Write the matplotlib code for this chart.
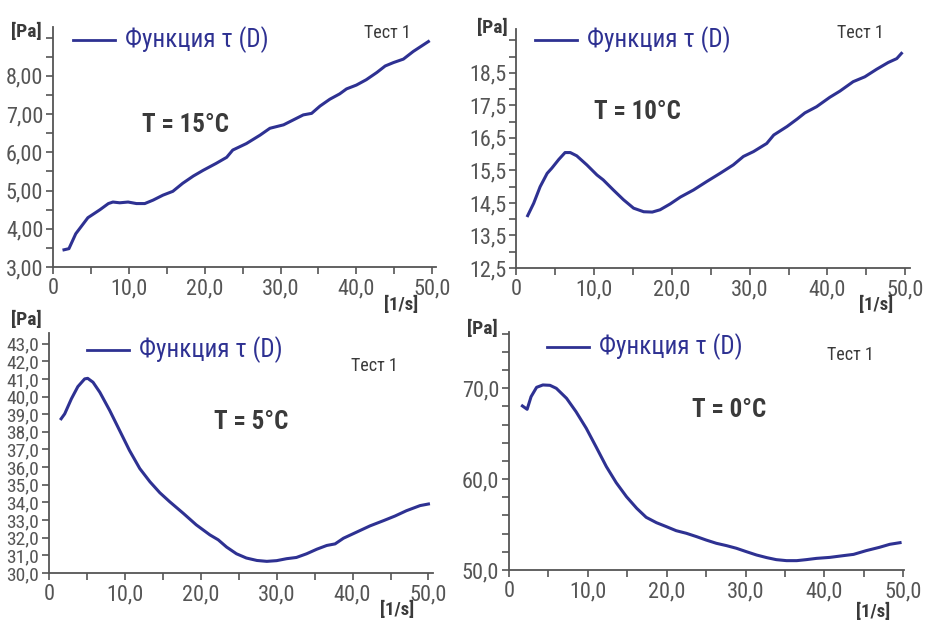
import matplotlib
matplotlib.use("Agg")
import matplotlib.pyplot as plt
from matplotlib import font_manager
from matplotlib.ticker import FixedLocator, FuncFormatter, MultipleLocator

avail = {f.name for f in font_manager.fontManager.ttflist}
base = None
for cand in ["Liberation Sans Narrow", "Roboto Condensed", "Open Sans Condensed", "Roboto", "Liberation Sans"]:
    if cand in avail:
        base = cand
        break
plt.rcParams['font.family'] = [base, 'DejaVu Sans']

# ---------------- data ----------------
x15 = [1.45, 2.1, 3.0, 4.6, 6.2, 7.3, 7.9, 8.8, 9.9, 11.0, 12.1, 13.2, 14.5, 15.8, 17.1, 18.5, 19.8,
       21.5, 22.9, 23.7, 25.5, 27.3, 28.6, 30.4, 31.7, 33.0, 34.1, 35.2, 36.5, 37.8, 38.7, 40.0, 41.3,
       42.7, 43.8, 44.9, 46.2, 47.5, 49.5]
y15 = [3.45, 3.48, 3.87, 4.29, 4.50, 4.66, 4.70, 4.68, 4.70, 4.66, 4.66, 4.75, 4.88, 4.98, 5.19, 5.38, 5.53,
       5.71, 5.87, 6.06, 6.23, 6.45, 6.63, 6.72, 6.85, 6.98, 7.02, 7.21, 7.39, 7.53, 7.66, 7.76, 7.90,
       8.09, 8.26, 8.35, 8.44, 8.64, 8.90]

x10 = [1.5, 2.27, 3.1, 4.0, 4.6, 5.5, 6.3, 6.97, 7.8, 9.1, 10.4, 11.2, 12.5, 13.8, 15.1, 16.4, 17.5, 18.5,
       19.8, 21.1, 22.8, 24.5, 26.2, 27.9, 29.2, 30.5, 32.2, 33.1, 34.8, 36.1, 37.1, 38.6, 40.3, 41.6,
       43.3, 44.8, 46.3, 47.8, 48.9, 49.5]
y10 = [14.11, 14.49, 15.0, 15.41, 15.57, 15.84, 16.05, 16.05, 15.95, 15.67, 15.36, 15.21, 14.90, 14.60,
       14.34, 14.23, 14.22, 14.29, 14.47, 14.68, 14.90, 15.16, 15.41, 15.67, 15.93, 16.08, 16.33, 16.59,
       16.85, 17.08, 17.27, 17.46, 17.75, 17.94, 18.23, 18.38, 18.61, 18.82, 18.94, 19.10]

x5 = [1.6, 2.07, 2.95, 3.8, 4.7, 5.1, 5.8, 6.7, 8.0, 9.3, 10.6, 11.96, 13.3, 14.6, 15.9, 17.7, 19.4, 21.2,
      22.3, 23.4, 24.7, 26.0, 27.4, 28.7, 30.0, 31.3, 32.6, 33.95, 35.3, 36.6, 37.7, 38.8, 40.5, 42.3,
      44.1, 45.6, 47.1, 48.9, 50.0]
y5 = [38.74, 39.02, 39.87, 40.56, 41.0, 41.03, 40.81, 40.24, 39.21, 38.08, 36.95, 35.92, 35.17, 34.55,
      34.04, 33.38, 32.73, 32.16, 31.88, 31.47, 31.09, 30.85, 30.71, 30.66, 30.70, 30.81, 30.88, 31.09,
      31.35, 31.56, 31.65, 31.97, 32.31, 32.67, 32.97, 33.23, 33.53, 33.82, 33.91]

x0 = [1.7, 2.3, 2.8, 3.5, 4.3, 5.2, 6.0, 7.3, 8.5, 9.8, 11.08, 12.35, 13.6, 14.9, 16.2, 17.4, 18.7, 19.97,
      21.2, 22.5, 23.8, 25.0, 26.3, 27.6, 28.85, 30.1, 31.4, 32.7, 33.9, 35.2, 36.5, 37.7, 39.0, 40.7,
      42.4, 43.7, 45.3, 47.0, 48.3, 49.6]
y0 = [68.06, 67.69, 69.08, 70.11, 70.37, 70.33, 70.0, 68.90, 67.43, 65.60, 63.50, 61.38, 59.61, 58.07,
      56.79, 55.80, 55.21, 54.77, 54.33, 54.04, 53.67, 53.30, 52.94, 52.68, 52.39, 52.02, 51.65, 51.36,
      51.14, 51.03, 51.03, 51.14, 51.28, 51.39, 51.58, 51.72, 52.13, 52.50, 52.83, 53.01]

x_ticks = [0, 10, 20, 30, 40, 50]
x_tick_labels = ["0", "10,0", "20,0", "30,0", "40,0", "50,0"]
temps = ["T = 15°C", "T = 10°C", "T = 5°C", "T = 0°C"]
legend_label = "Функция τ (D)"
test_label = "Тест 1"

W, H = 946, 628
fig = plt.figure(figsize=(W / 100, H / 100), dpi=100)

LINE = "#2e3192"
AX = "#555555"
TXT = "#3a3a3a"
TICKTXT = "#555555"


def fx(px):
    return px / W


def fy(py):
    return 1 - py / H


def make_axes(l, r, b, t, xmax, ylim, yticks, ydec, yminor, ytick_fs):
    ax = fig.add_axes([fx(l), fy(b), fx(r) - fx(l), fy(t) - fy(b)])
    ax.set_xlim(0, xmax)
    ax.set_ylim(*ylim)
    for s in ["top", "right"]:
        ax.spines[s].set_visible(False)
    for s in ["left", "bottom"]:
        ax.spines[s].set_color(AX)
        ax.spines[s].set_linewidth(1.3)
    ax.xaxis.set_major_locator(FixedLocator(x_ticks))
    ax.set_xticklabels(x_tick_labels)
    ax.xaxis.set_minor_locator(MultipleLocator(5))
    ax.yaxis.set_major_locator(FixedLocator(yticks))
    ax.yaxis.set_major_formatter(FuncFormatter(lambda v, p: f"{v:.{ydec}f}".replace(".", ",")))
    ax.yaxis.set_minor_locator(MultipleLocator(yminor))
    ax.tick_params(axis="both", which="both", direction="out", color=AX, width=1.2, length=5,
                   labelcolor=TICKTXT, pad=2)
    ax.tick_params(axis="x", labelsize=16, pad=3)
    ax.tick_params(axis="y", labelsize=ytick_fs)
    return ax


# Panel 1
a1 = make_axes(53, 436, 267, 27, 50.5, (3, 9.28), [3, 4, 5, 6, 7, 8], 2, 0.5, 16)
a1.plot(x15, y15, color=LINE, lw=2.2)
# Panel 2
a2 = make_axes(516, 910, 268, 29, 50.6, (12.5, 19.85), [12.5, 13.5, 14.5, 15.5, 16.5, 17.5, 18.5], 1, 0.5, 16)
a2.plot(x10, y10, color=LINE, lw=2.2)
# Panel 3
a3 = make_axes(49, 433, 573, 333, 50.6, (30, 43.6), list(range(30, 44)), 1, 1.0, 14)
a3.plot(x5, y5, color=LINE, lw=2.2)
# Panel 4
a4 = make_axes(509, 904, 570, 332, 50.1, (50, 76.2), [50, 60, 70], 1, 2.0, 16)
a4.plot(x0, y0, color=LINE, lw=2.2)

# annotations: (pa_x, pa_y, leg_x0, leg_x1, leg_y, test_x, test_y, temp_x, temp_y, unit_x, unit_y)
specs = [
    (26, 32, 73, 115, 40, 387, 33, 185, 125, 401, 305),
    (492, 28, 535, 577, 40, 860, 33, 637, 112, 876, 305),
    (26, 320, 87, 129, 350, 374, 366, 251, 422, 397, 610),
    (482, 329, 547, 589, 347, 850, 355, 729, 410, 873, 612),
]
for i, (pax, pay, l0, l1, ly, tx, ty, tpx, tpy, ux, uy) in enumerate(specs):
    fig.text(fx(pax), fy(pay), "[Pa]", ha="center", va="center", fontsize=14, fontweight="bold", color=TXT)
    fig.add_artist(plt.Line2D([fx(l0), fx(l1)], [fy(ly), fy(ly)], color=LINE, lw=2.0))
    fig.text(fx(l1 + 10), fy(ly), legend_label, ha="left", va="center", fontsize=18, color=LINE)
    fig.text(fx(tx), fy(ty), test_label, ha="center", va="center", fontsize=13, color=TXT)
    fig.text(fx(tpx), fy(tpy), temps[i], ha="center", va="center", fontsize=18, fontweight="bold", color=TXT)
    fig.text(fx(ux), fy(uy), "[1/s]", ha="center", va="center", fontsize=13.5, fontweight="bold", color=TXT)

fig.savefig("out.png", dpi=100)
